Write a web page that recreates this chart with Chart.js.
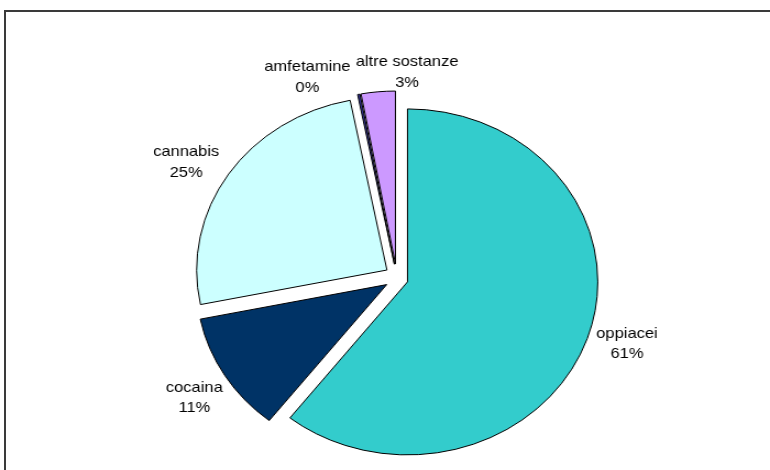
<!DOCTYPE html>
<html lang="it">
<head>
<meta charset="utf-8">
<title>Sostanze</title>
<script src="https://cdn.jsdelivr.net/npm/chart.js@4.4.1/dist/chart.umd.min.js"></script>
<style>
  html, body { margin: 0; padding: 0; background: #fff; }
  body { width: 770px; height: 470px; position: relative; overflow: hidden; }
  /* chart-area frame: only top and left edges fall inside the page */
  .frame {
    position: absolute; left: 4px; top: 10px; right: -10px; bottom: -10px;
    border-left: 2px solid #3a3a3a; border-top: 2px solid #3a3a3a;
  }
  /* the sheet chart is stretched a little wider than tall */
  .wrap {
    position: absolute; left: 0; top: 0; width: 700px; height: 470px;
    transform: scaleX(1.1); transform-origin: 0 0;
  }
</style>
</head>
<body>
<div class="frame"></div>
<div class="wrap"><canvas id="chart"></canvas></div>

<script>
// ── Data ──────────────────────────────────────────────────────────────────────
const SUBSTANCES = ['oppiacei', 'cocaina', 'cannabis', 'amfetamine', 'altre sostanze']
const SHARES     = [60.6, 11.2, 25.1, 0.2, 2.9]
const COLORS     = ['#33CCCC', '#003366', '#CCFFFF', '#333399', '#CC99FF']

// ── Layout ────────────────────────────────────────────────────────────────────
const RADIUS      = 173
const EXPLODE_X   = 10.5     // how far each slice is pulled out of the pie
const EXPLODE_Y   = 13.5
const LABEL_DIST  = 219
const LABEL_NUDGE = [[2.5, -5], [2.5, 5.5], [-9, 6], [-40, 15], [29.5, 13]]
const LABEL_FONT  = '15px Arial, "Liberation Sans", sans-serif'
const LINE_H      = 20.5

// ── Exploded slices ───────────────────────────────────────────────────────────
// Draw every arc ourselves, shifted along its bisector, instead of the default pass
const explodePlugin = {
  id: 'explode',
  beforeDatasetDraw(chart, args) {
    const ctx = chart.ctx
    args.meta.data.forEach(arc => {
      const mid = (arc.startAngle + arc.endAngle) / 2
      ctx.save()
      ctx.translate(Math.cos(mid) * EXPLODE_X, Math.sin(mid) * EXPLODE_Y)
      arc.draw(ctx, chart.chartArea)
      ctx.restore()
    })
    return false
  },
}

// ── Name + percentage labels outside each slice ───────────────────────────────
const labelPlugin = {
  id: 'sliceLabels',
  afterDatasetsDraw(chart) {
    const ctx   = chart.ctx
    const meta  = chart.getDatasetMeta(0)
    const total = SHARES.reduce((a, b) => a + b, 0)
    ctx.save()
    ctx.font         = LABEL_FONT
    ctx.fillStyle    = '#000'
    ctx.textAlign    = 'center'
    ctx.textBaseline = 'middle'
    meta.data.forEach((arc, i) => {
      const mid      = (arc.startAngle + arc.endAngle) / 2
      const [nx, ny] = LABEL_NUDGE[i]
      const x = arc.x + Math.cos(mid) * LABEL_DIST + nx
      const y = arc.y + Math.sin(mid) * LABEL_DIST + ny
      ctx.fillText(SUBSTANCES[i], x, y - LINE_H / 2)
      ctx.fillText(`${Math.round(SHARES[i] / total * 100)}%`, x, y + LINE_H / 2)
    })
    ctx.restore()
  },
}

// ── Chart ─────────────────────────────────────────────────────────────────────
new Chart(document.getElementById('chart'), {
  type: 'pie',
  data: {
    labels: SUBSTANCES,
    datasets: [{
      data:            SHARES,
      backgroundColor: COLORS,
      borderColor:     '#000',
      borderWidth:     1,
      borderJoinStyle: 'miter',
    }],
  },
  options: {
    responsive:          true,
    maintainAspectRatio: false,
    animation:           false,
    events:              [],
    radius:              RADIUS,
    layout: { padding: { left: 21, right: 0, top: 85, bottom: 0 } },
    plugins: {
      legend:  { display: false },
      tooltip: { enabled: false },
    },
  },
  plugins: [explodePlugin, labelPlugin],
})
</script>
</body>
</html>
